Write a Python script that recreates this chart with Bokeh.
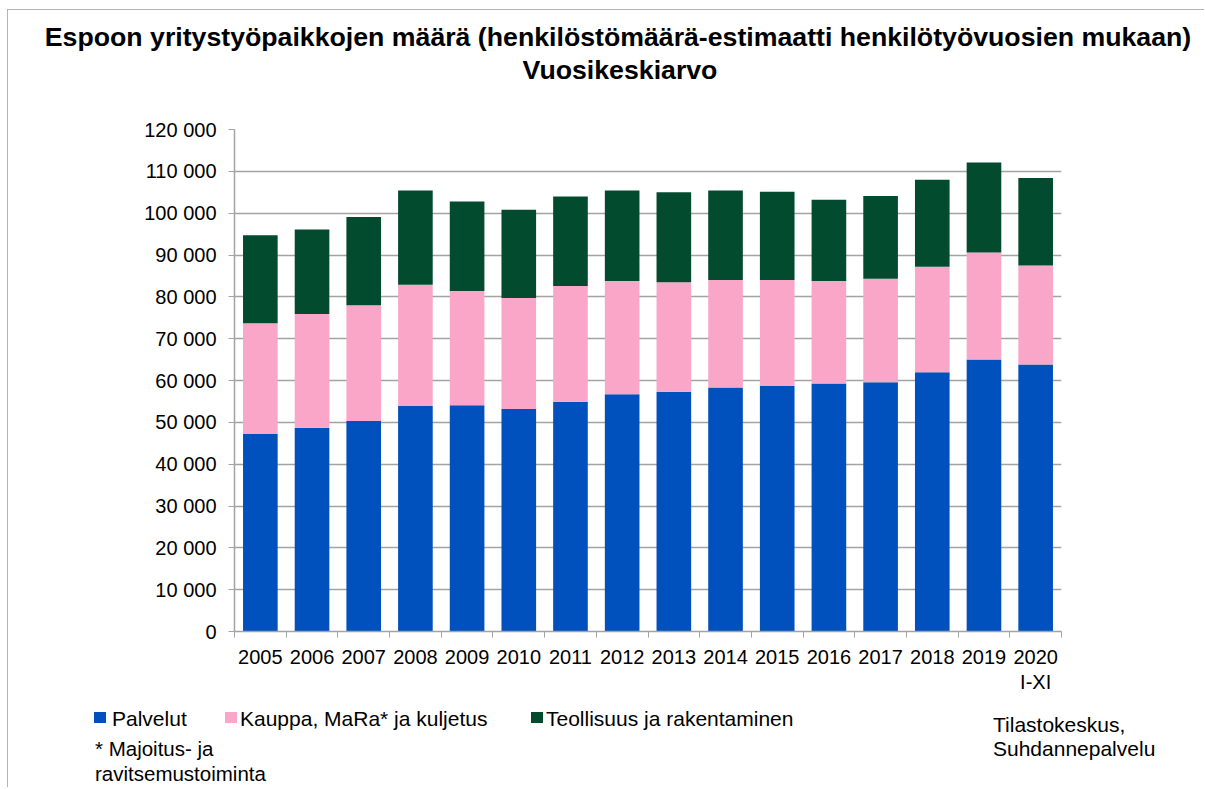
from bokeh.plotting import figure
from bokeh.models import Range1d, FixedTicker, Div
from bokeh.layouts import column
from bokeh.embed import file_html
from bokeh.resources import INLINE

# ---- data ----
years = ["2005", "2006", "2007", "2008", "2009", "2010", "2011", "2012",
         "2013", "2014", "2015", "2016", "2017", "2018", "2019", "2020\nI-XI"]
palvelut = [47200, 48700, 50300, 53900, 54100, 53200, 54900, 56700,
            57300, 58300, 58700, 59300, 59600, 62000, 65000, 63800]
kauppa_top = [73700, 75900, 78000, 82900, 81400, 79700, 82600, 83800,
              83500, 84000, 84000, 83800, 84300, 87200, 90600, 87500]
total_top = [94700, 96100, 99100, 105400, 102800, 100800, 104000, 105400,
             105000, 105400, 105100, 103200, 104100, 108000, 112100, 108400]
series_names = ["Palvelut", "Kauppa, MaRa* ja kuljetus", "Teollisuus ja rakentaminen"]
colors = ["#0051BD", "#F9A6C8", "#024B2F"]
y_ticks = list(range(0, 120001, 10000))
title1 = "Espoon yritystyöpaikkojen määrä (henkilöstömäärä-estimaatti henkilötyövuosien mukaan)"
title2 = "Vuosikeskiarvo"
footnote = ["* Majoitus- ja", "ravitsemustoiminta"]
source = ["Tilastokeskus,", "Suhdannepalvelu"]

FONT = "Liberation Sans"
GRID = "#a3a3a3"
OX, OY = 8, 10            # page position of the content origin
W = 1198
TOP_H = 115 - OY          # title strip height
MAIN_TOP, FR_T, FR_B, MAIN_BOT = 115, 129, 631, 697
FR_L, FR_R = 234 - OX, 1061 - OX
BOT_H = 789 - MAIN_BOT - 2


def txt(s, x, y, size=20, bold=False, center=False):
    tr = "translate(-50%,-50%)" if center else "translate(0,-50%)"
    fw = "bold" if bold else "normal"
    return (f'<div style="position:absolute;left:{x}px;top:{y}px;transform:{tr};'
            f'white-space:pre;line-height:1;font-size:{size}px;font-weight:{fw};'
            f'color:black;font-family:\'{FONT}\';">{s}</div>')


def box(x, y, w, h, c):
    return (f'<div style="position:absolute;left:{x}px;top:{y}px;width:{w}px;'
            f'height:{h}px;background:{c};"></div>')


def strip(inner, h):
    html = (f'<div style="position:relative;width:{W - 2}px;height:{h}px;overflow:visible;">'
            + inner + '</div>')
    return Div(text=html, width=W - 2, height=h, styles={"margin": "0", "padding": "0"})


# ---- title strip ----
top = strip(txt(title1, 618 - OX, 37 - OY, 26.7, True, True)
            + txt(title2, 620 - OX, 70 - OY, 26.7, True, True), TOP_H)

# ---- main chart ----
n = len(years)
x_c = [i + 0.5 for i in range(n)]
p = figure(width=W - 2, height=MAIN_BOT - MAIN_TOP, output_backend="svg", toolbar_location=None,
           x_range=Range1d(0, n), y_range=Range1d(0, 120000),
           min_border_left=FR_L, min_border_right=W - 2 - FR_R,
           min_border_top=FR_T - MAIN_TOP, min_border_bottom=MAIN_BOT - FR_B)
p.outline_line_color = None
p.border_fill_color = "white"

bw = 0.67
p.vbar(x=x_c, bottom=0, top=palvelut, width=bw, fill_color=colors[0], line_color=None)
p.vbar(x=x_c, bottom=palvelut, top=kauppa_top, width=bw, fill_color=colors[1], line_color=None)
p.vbar(x=x_c, bottom=kauppa_top, top=total_top, width=bw, fill_color=colors[2], line_color=None)

xa = p.xaxis[0]
xa.ticker = FixedTicker(ticks=x_c, minor_ticks=list(range(n + 1)))
xa.major_label_overrides = {x: y for x, y in zip(x_c, years)}
xa.major_tick_out = 0
xa.major_tick_in = 0
xa.minor_tick_out = 6
xa.minor_tick_in = 0
xa.minor_tick_line_color = GRID
xa.axis_line_color = GRID
xa.axis_line_width = 1.5
xa.major_label_text_font = FONT
xa.major_label_text_font_size = "20px"
xa.major_label_text_color = "black"
xa.major_label_text_line_height = 1.15
xa.major_label_standoff = 8

ya = p.yaxis[0]
ya.ticker = FixedTicker(ticks=y_ticks, minor_ticks=[])
ya.major_label_overrides = {v: f"{v:,}".replace(",", " ") for v in y_ticks}
ya.major_tick_out = 6
ya.major_tick_in = 0
ya.major_tick_line_color = GRID
ya.axis_line_color = GRID
ya.axis_line_width = 1.5
ya.major_label_text_font = FONT
ya.major_label_text_font_size = "20px"
ya.major_label_text_color = "black"
ya.major_label_standoff = 12

p.xgrid.grid_line_color = None
p.ygrid.ticker = FixedTicker(ticks=y_ticks, minor_ticks=[])
p.ygrid.grid_line_color = GRID
p.ygrid.grid_line_width = 1.5

# ---- bottom strip: legend, footnote, source ----
Y0 = MAIN_BOT
sw_left = [94, 225, 531]
tx_left = [112, 240, 546]
leg_y = 718
inner = ""
for name, c, sx, tx in zip(series_names, colors, sw_left, tx_left):
    inner += box(sx - OX, leg_y - 6 - Y0, 12, 11, c)
    inner += txt(name, tx - OX, leg_y - Y0, 21)
inner += txt(footnote[0], 95 - OX, 749 - Y0, 20.5)
inner += txt(footnote[1], 95 - OX, 774 - Y0, 20.5)
inner += txt(source[0], 993 - OX, 724 - Y0, 21)
inner += txt(source[1], 993 - OX, 748 - Y0, 21)
bot = strip(inner, BOT_H)

layout = column(top, p, bot, spacing=0)
layout.styles = {"margin-left": "7px", "margin-top": "9px",
                 "border-top": "1px solid #b4b4b4", "border-left": "1px solid #b4b4b4",
                 "border-right": "none", "border-bottom": "none", "outline": "none"}

open("out.html", "w").write(file_html(layout, INLINE))
